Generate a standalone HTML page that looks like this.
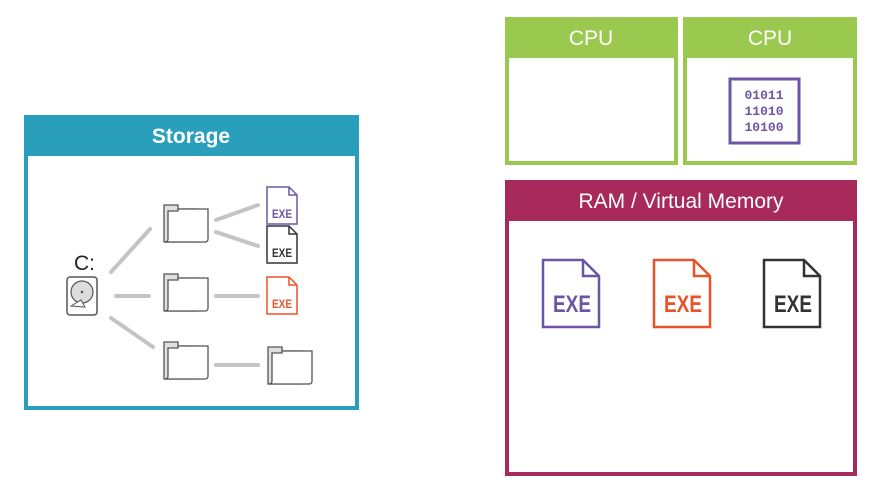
<!DOCTYPE html>
<html><head><meta charset="utf-8"><style>
body{margin:0;background:#fff;width:879px;height:492px;overflow:hidden;font-family:"Liberation Sans",sans-serif}
</style></head><body>
<svg width="879" height="492" xmlns="http://www.w3.org/2000/svg">
<defs>
<g id="folder">
<path d="M2 2 h14 v4 h20 v33 h-34 z" fill="#e0e0e0" stroke="#555" stroke-width="1.3"/>
<path d="M6 8 h10 v-2 h30 v30 q0 3 -3 3 h-40 q3 0 3 -3 z" fill="#fff" stroke="#555" stroke-width="1.3"/>
</g>
</defs>
<!-- Storage -->
<rect x="26" y="117" width="331" height="291" fill="#fff" stroke="#2a9fbc" stroke-width="4"/>
<rect x="24" y="115" width="335" height="41" fill="#2a9fbc"/>
<text x="191" y="143" font-size="21" font-weight="bold" fill="#fff" text-anchor="middle">Storage</text>
<g stroke="#c4c4c4" stroke-width="4" stroke-linecap="round">
<line x1="111" y1="272" x2="150" y2="229"/>
<line x1="116" y1="296" x2="149" y2="296"/>
<line x1="111" y1="318" x2="153" y2="347"/>
<line x1="216" y1="220" x2="258" y2="205"/>
<line x1="216" y1="232" x2="258" y2="246"/>
<line x1="216" y1="296" x2="258" y2="296"/>
<line x1="216" y1="365" x2="258" y2="365"/>
</g>
<text x="74" y="270" font-size="21" fill="#222">C:</text>
<rect x="67" y="277" width="30" height="38" rx="3" fill="#fff" stroke="#555" stroke-width="1.5"/>
<circle cx="82" cy="292" r="11" fill="#ddd" stroke="#555" stroke-width="1.2"/>
<circle cx="82" cy="292" r="1.3" fill="#555"/>
<path d="M71 306 l10 -6 l4 7 z" fill="#fff" stroke="#555"/>
<use href="#folder" x="162" y="203"/>
<use href="#folder" x="162" y="272"/>
<use href="#folder" x="162" y="340"/>
<use href="#folder" x="266" y="345"/>
<g font-size="12" font-weight="bold" font-family="Liberation Sans Narrow,Liberation Sans,sans-serif">
<path d="M267 187 h22 l8 8 v29 h-30 z M289 187 v8 h8" fill="#fff" stroke="#6b56a6" stroke-width="1.5"/>
<text x="272" y="218" fill="#6b56a6" textLength="20" lengthAdjust="spacingAndGlyphs">EXE</text>
<path d="M267 226 h22 l8 8 v29 h-30 z M289 226 v8 h8" fill="#fff" stroke="#333" stroke-width="1.5"/>
<text x="272" y="257" fill="#333" textLength="20" lengthAdjust="spacingAndGlyphs">EXE</text>
<path d="M267 277 h22 l8 8 v29 h-30 z M289 277 v8 h8" fill="#fff" stroke="#e8542a" stroke-width="1.5"/>
<text x="272" y="308" fill="#e8542a" textLength="20" lengthAdjust="spacingAndGlyphs">EXE</text>
</g>
<!-- CPUs -->
<rect x="507" y="19" width="169" height="144" fill="#fff" stroke="#9bc94f" stroke-width="4"/>
<rect x="505" y="17" width="173" height="41" fill="#9bc94f"/>
<text x="591" y="45" font-size="21" fill="#fff" text-anchor="middle">CPU</text>
<rect x="685" y="19" width="170" height="144" fill="#fff" stroke="#9bc94f" stroke-width="4"/>
<rect x="683" y="17" width="174" height="41" fill="#9bc94f"/>
<text x="770" y="45" font-size="21" fill="#fff" text-anchor="middle">CPU</text>
<rect x="730" y="79" width="69" height="64" fill="#fff" stroke="#6b56a6" stroke-width="3"/>
<g font-family="Liberation Mono,monospace" font-weight="bold" font-size="13" fill="#6b56a6" text-anchor="middle">
<text x="764" y="99">01011</text><text x="764" y="115">11010</text><text x="764" y="131">10100</text>
</g>
<!-- RAM -->
<rect x="507" y="182" width="348" height="292" fill="#fff" stroke="#a82a5a" stroke-width="4"/>
<rect x="505" y="180" width="352" height="41" fill="#a82a5a"/>
<text x="681" y="208" font-size="21" fill="#fff" text-anchor="middle">RAM / Virtual Memory</text>
<g font-size="24" font-weight="bold" font-family="Liberation Sans Narrow,Liberation Sans,sans-serif">
<path d="M543 260 h40 l16 16 v51 h-56 z M583 260 v16 h16" fill="#fff" stroke="#6b56a6" stroke-width="2.5"/>
<text x="553" y="312" fill="#6b56a6" textLength="38" lengthAdjust="spacingAndGlyphs">EXE</text>
<path d="M654 260 h40 l16 16 v51 h-56 z M694 260 v16 h16" fill="#fff" stroke="#e8542a" stroke-width="2.5"/>
<text x="664" y="312" fill="#e8542a" textLength="38" lengthAdjust="spacingAndGlyphs">EXE</text>
<path d="M764 260 h40 l16 16 v51 h-56 z M804 260 v16 h16" fill="#fff" stroke="#333" stroke-width="2.5"/>
<text x="774" y="312" fill="#333" textLength="38" lengthAdjust="spacingAndGlyphs">EXE</text>
</g>
</svg>
</body></html>
